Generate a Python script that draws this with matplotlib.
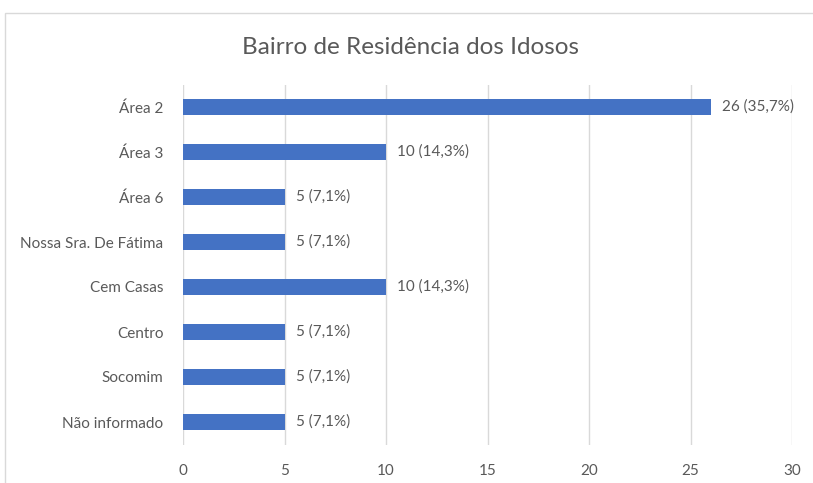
import matplotlib
matplotlib.use("Agg")
import matplotlib.pyplot as plt
from matplotlib.patches import Rectangle

# dados
bairros = ["Área 2", "Área 3", "Área 6", "Nossa Sra. De Fátima",
           "Cem Casas", "Centro", "Socomim", "Não informado"]
contagens = [26, 10, 5, 5, 10, 5, 5, 5]
percentuais = ["35,7%", "14,3%", "7,1%", "7,1%", "14,3%", "7,1%", "7,1%", "7,1%"]
ticks_x = [0, 5, 10, 15, 20, 25, 30]

AZUL = "#4472C4"
CINZA_TXT = "#595959"
CINZA_GRADE = "#D9D9D9"

plt.rcParams["font.family"] = ["Lato", "DejaVu Sans"]

fig = plt.figure(figsize=(8.13, 4.83), dpi=100)
ax = fig.add_axes([183 / 813, 1 - 444.5 / 483, (792 - 183) / 813, (444.5 - 84.5) / 483])

# moldura do gráfico (só borda superior e esquerda aparecem)
fig.patches.append(Rectangle((5 / 813, -0.2), 1.2, 1.2 - 13 / 483,
                             transform=fig.transFigure, fill=False,
                             edgecolor=CINZA_GRADE, linewidth=1.0))

pos = list(range(len(bairros)))
ax.barh(pos, contagens, height=0.35, color=AZUL, zorder=3)

for y, v, p in zip(pos, contagens, percentuais):
    ax.text(v + 0.55, y, f"{v} ({p})", va="center", ha="left",
            fontsize=11, color=CINZA_TXT, zorder=4)

ax.set_ylim(len(bairros) - 0.5, -0.5)
ax.set_xlim(0, 30)
ax.set_yticks(pos)
ax.set_yticklabels(bairros, fontsize=11, color=CINZA_TXT)
ax.set_xticks(ticks_x)
ax.set_xticklabels([str(t) for t in ticks_x], fontsize=11, color=CINZA_TXT)
ax.tick_params(axis="both", length=0)
ax.tick_params(axis="y", pad=14)
ax.tick_params(axis="x", pad=14)

ax.grid(axis="x", color=CINZA_GRADE, linewidth=1.0, zorder=0)
for s in ax.spines.values():
    s.set_visible(False)

fig.text(0.5 * (243 + 577) / 813, 1 - 47 / 483, "Bairro de Residência dos Idosos",
         ha="center", va="center", fontsize=17.5, color=CINZA_TXT)

fig.savefig("out.png", dpi=100)
